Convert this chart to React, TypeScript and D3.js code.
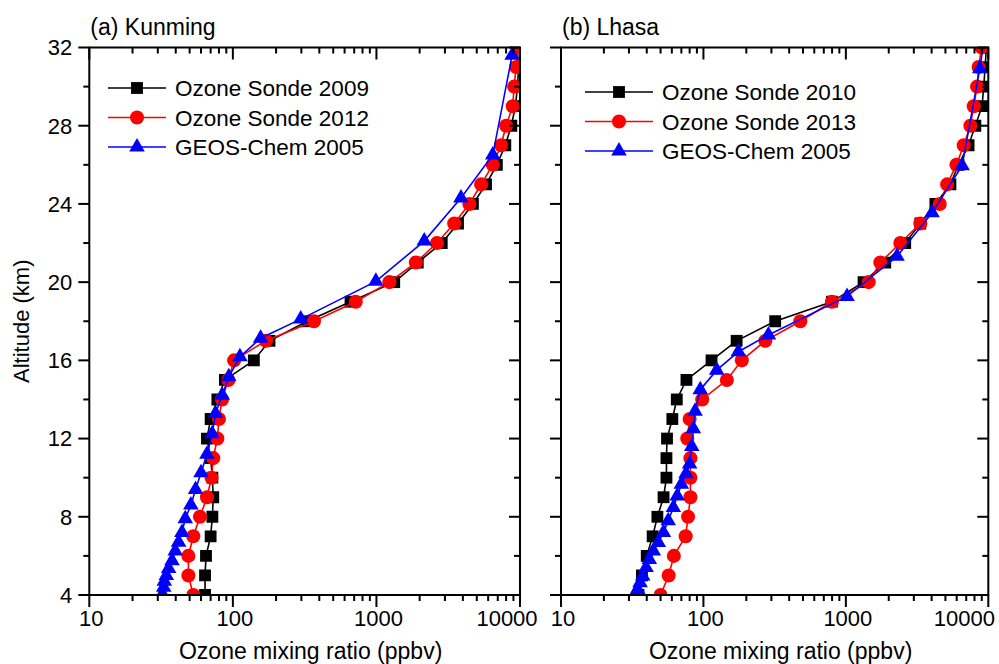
import React, { useEffect, useRef } from 'react';
import * as d3 from 'd3';

// sonde altitudes (km), one value per km
const sondeAltitudes = [4, 5, 6, 7, 8, 9, 10, 11, 12, 13, 14, 15, 16, 17, 18, 19, 20, 21, 22, 23, 24, 25, 26, 27, 28, 29, 30, 31, 32];

// Kunming
const kunmingSonde2009 = [64, 64, 65, 70, 72, 73, 72, 70, 66, 70, 78, 88, 140, 180, 330, 660, 1330, 1940, 2850, 3700, 4700, 5800, 6900, 7900, 8700, 9300, 9600, 9800, 9950];
const kunmingSonde2012 = [53, 49, 49, 53, 59, 66, 71, 73, 78, 80, 84, 93, 102, 170, 367, 718, 1230, 1880, 2640, 3480, 4440, 5360, 6460, 7380, 8000, 8900, 9100, 9400, 9700];
const kunmingGeosAlt = [4.05, 4.4, 4.7, 5.0, 5.35, 5.75, 6.25, 6.7, 7.2, 7.9, 8.6, 9.4, 10.25, 11.2, 12.25, 13.28, 14.22, 15.16, 16.19, 17.13, 18.11, 20.04, 22.1, 24.3, 26.5, 31.6];
const kunmingGeos2005 = [32.3, 33, 33.3, 34.4, 35.7, 37.7, 39.7, 41.9, 44.2, 46.6, 51, 55, 60, 66, 71.8, 75.7, 84.3, 93.7, 112, 156, 297, 991, 2153, 3880, 6460, 8810];

// Lhasa
const lhasaSonde2010 = [35, 37, 40, 44, 47.5, 52.5, 55, 55, 55.5, 60.5, 65, 76, 114, 171, 319, 798, 1331, 1890, 2610, 3333, 4250, 5420, 6170, 7270, 8110, 9040, 9290, 9500, 9700];
const lhasaSonde2013 = [50, 57, 62, 75, 78, 81, 81, 81, 77, 80, 98, 146, 186, 272, 479, 798, 1445, 1745, 2410, 3333, 4560, 5140, 5975, 6720, 7480, 7900, 8340, 8550, 8980];
const lhasaGeosAlt = [4.0, 4.3, 4.63, 4.97, 5.4, 5.82, 6.25, 6.68, 7.2, 7.8, 8.47, 9.06, 9.66, 10.2, 10.7, 11.6, 12.5, 13.4, 14.5, 15.5, 16.44, 17.3, 19.27, 21.32, 23.55, 25.95, 30.91, 32.3];
const lhasaGeos2005 = [33, 34.5, 35.9, 37.5, 39.6, 41.7, 44.5, 48.2, 52.4, 56.6, 61.5, 65.5, 70, 75.5, 80, 82.8, 85, 87.4, 95, 124, 176, 286, 1019, 2287, 4030, 6550, 8710, 9300];

const xMajor = [10, 100, 1000, 10000];
const yMajor = [4, 8, 12, 16, 20, 24, 28, 32];
const yMinor = [6, 10, 14, 18, 22, 26, 30];

const width = 999;
const height = 664;
const top = 47.5, bottom = 595;
const font = "'Liberation Sans', Arial, sans-serif";

const panels = [
    {
        key: 'a', title: '(a) Kunming', left: 89.3, right: 520, yLabels: true,
        legend: { x: 108, y: 88, textX: 175 }, lastDx: -13,
        series: [
            { name: 'Ozone Sonde 2009', color: '#000000', marker: 'square', alt: sondeAltitudes, val: kunmingSonde2009 },
            { name: 'Ozone Sonde 2012', color: '#ff0000', marker: 'circle', alt: sondeAltitudes, val: kunmingSonde2012 },
            { name: 'GEOS-Chem 2005', color: '#0000ff', marker: 'triangle', alt: kunmingGeosAlt, val: kunmingGeos2005 },
        ]
    },
    {
        key: 'b', title: '(b) Lhasa', left: 561, right: 988.3, yLabels: false,
        legend: { x: 585, y: 92, textX: 662 }, lastDx: -24,
        series: [
            { name: 'Ozone Sonde 2010', color: '#000000', marker: 'square', alt: sondeAltitudes, val: lhasaSonde2010 },
            { name: 'Ozone Sonde 2013', color: '#ff0000', marker: 'circle', alt: sondeAltitudes, val: lhasaSonde2013 },
            { name: 'GEOS-Chem 2005', color: '#0000ff', marker: 'triangle', alt: lhasaGeosAlt, val: lhasaGeos2005 },
        ]
    }
];

const symbolFor = (m: string) => {
    if (m === 'square') return d3.symbol().type(d3.symbolSquare).size(140)();
    if (m === 'circle') return d3.symbol().type(d3.symbolCircle).size(155)();
    return d3.symbol().type(d3.symbolTriangle).size(105)();
};

const App = () => {
    const ref = useRef<SVGSVGElement>(null);

    useEffect(() => {
        const svg = d3.select(ref.current);
        svg.selectAll('*').remove();

        const y = d3.scaleLinear().domain([4, 32]).range([bottom, top]);

        panels.forEach(p => {
            const x = d3.scaleLog().domain([10, 10000]).range([p.left, p.right]);
            const xMinor: number[] = [];
            [10, 100, 1000].forEach(dec => { for (let k = 2; k <= 9; k++) xMinor.push(dec * k); });

            const g = svg.append('g');

            g.append('clipPath').attr('id', 'clip-' + p.key)
                .append('rect')
                .attr('x', p.left).attr('y', top)
                .attr('width', p.right - p.left).attr('height', bottom - top);

            // data
            const plot = g.append('g').attr('clip-path', `url(#clip-${p.key})`);
            p.series.forEach(s => {
                const pts = s.alt.map((a, i) => [s.val[i], a]);
                plot.append('path')
                    .datum(pts)
                    .attr('fill', 'none')
                    .attr('stroke', s.color)
                    .attr('stroke-width', 1.6)
                    .attr('d', d3.line<number[]>().x(d => x(d[0])).y(d => y(d[1])));
                plot.append('g').selectAll('path')
                    .data(pts)
                    .join('path')
                    .attr('transform', d => `translate(${x(d[0])},${y(d[1])})`)
                    .attr('d', symbolFor(s.marker))
                    .attr('fill', s.color);
            });

            // frame
            g.append('rect')
                .attr('x', p.left).attr('y', top)
                .attr('width', p.right - p.left).attr('height', bottom - top)
                .attr('fill', 'none').attr('stroke', '#000').attr('stroke-width', 2);

            const ticks = g.append('g').attr('stroke', '#000').attr('stroke-width', 2);
            // bottom (outward) and top (inward)
            xMajor.forEach(v => {
                ticks.append('line').attr('x1', x(v)).attr('x2', x(v)).attr('y1', bottom).attr('y2', bottom + 12);
                ticks.append('line').attr('x1', x(v)).attr('x2', x(v)).attr('y1', top).attr('y2', top + 12);
            });
            xMinor.forEach(v => {
                ticks.append('line').attr('x1', x(v)).attr('x2', x(v)).attr('y1', bottom).attr('y2', bottom + 6);
                ticks.append('line').attr('x1', x(v)).attr('x2', x(v)).attr('y1', top).attr('y2', top + 6);
            });
            // left (outward) and right (inward)
            yMajor.forEach(v => {
                ticks.append('line').attr('x1', p.left - 11).attr('x2', p.left).attr('y1', y(v)).attr('y2', y(v));
                ticks.append('line').attr('x1', p.right - 11).attr('x2', p.right).attr('y1', y(v)).attr('y2', y(v));
            });
            yMinor.forEach(v => {
                ticks.append('line').attr('x1', p.left - 6).attr('x2', p.left).attr('y1', y(v)).attr('y2', y(v));
                ticks.append('line').attr('x1', p.right - 6).attr('x2', p.right).attr('y1', y(v)).attr('y2', y(v));
            });

            // x tick labels
            g.append('g').selectAll('text')
                .data(xMajor)
                .join('text')
                .attr('x', (d, i) => x(d) + (i === xMajor.length - 1 ? p.lastDx : 2))
                .attr('y', 626)
                .attr('text-anchor', 'middle')
                .attr('font-family', font).attr('font-size', 22)
                .text(d => String(d));

            if (p.yLabels) {
                g.append('g').selectAll('text')
                    .data(yMajor)
                    .join('text')
                    .attr('x', p.left - 17)
                    .attr('y', d => y(d))
                    .attr('dy', '0.36em')
                    .attr('text-anchor', 'end')
                    .attr('font-family', font).attr('font-size', 22)
                    .text(d => String(d));
            }

            g.append('text')
                .attr('x', p.left + 1).attr('y', 35)
                .attr('font-family', font).attr('font-size', 23)
                .text(p.title);

            g.append('text')
                .attr('x', (p.left + p.right) / 2 + 6).attr('y', 659)
                .attr('text-anchor', 'middle')
                .attr('font-family', font).attr('font-size', 23)
                .text('Ozone mixing ratio (ppbv)');

            // legend
            p.series.forEach((s, i) => {
                const ly = p.legend.y + i * 29.5;
                const lx0 = p.legend.x, lx1 = p.legend.textX - 9;
                g.append('line')
                    .attr('x1', lx0).attr('x2', lx1).attr('y1', ly).attr('y2', ly)
                    .attr('stroke', s.color).attr('stroke-width', 1.6);
                g.append('path')
                    .attr('transform', `translate(${(lx0 + lx1) / 2},${ly})`)
                    .attr('d', symbolFor(s.marker))
                    .attr('fill', s.color);
                g.append('text')
                    .attr('x', p.legend.textX).attr('y', ly)
                    .attr('dy', '0.36em')
                    .attr('font-family', font).attr('font-size', 22.5)
                    .text(s.name);
            });
        });

        svg.append('text')
            .attr('transform', `translate(29,${(top + bottom) / 2}) rotate(-90)`)
            .attr('text-anchor', 'middle')
            .attr('font-family', font).attr('font-size', 22)
            .text('Altitude (km)');
    }, []);

    return (
        <svg ref={ref} width={width} height={height}
            style={{ position: 'absolute', left: 0, top: 0, background: '#fff' }} />
    );
};

export default App;
